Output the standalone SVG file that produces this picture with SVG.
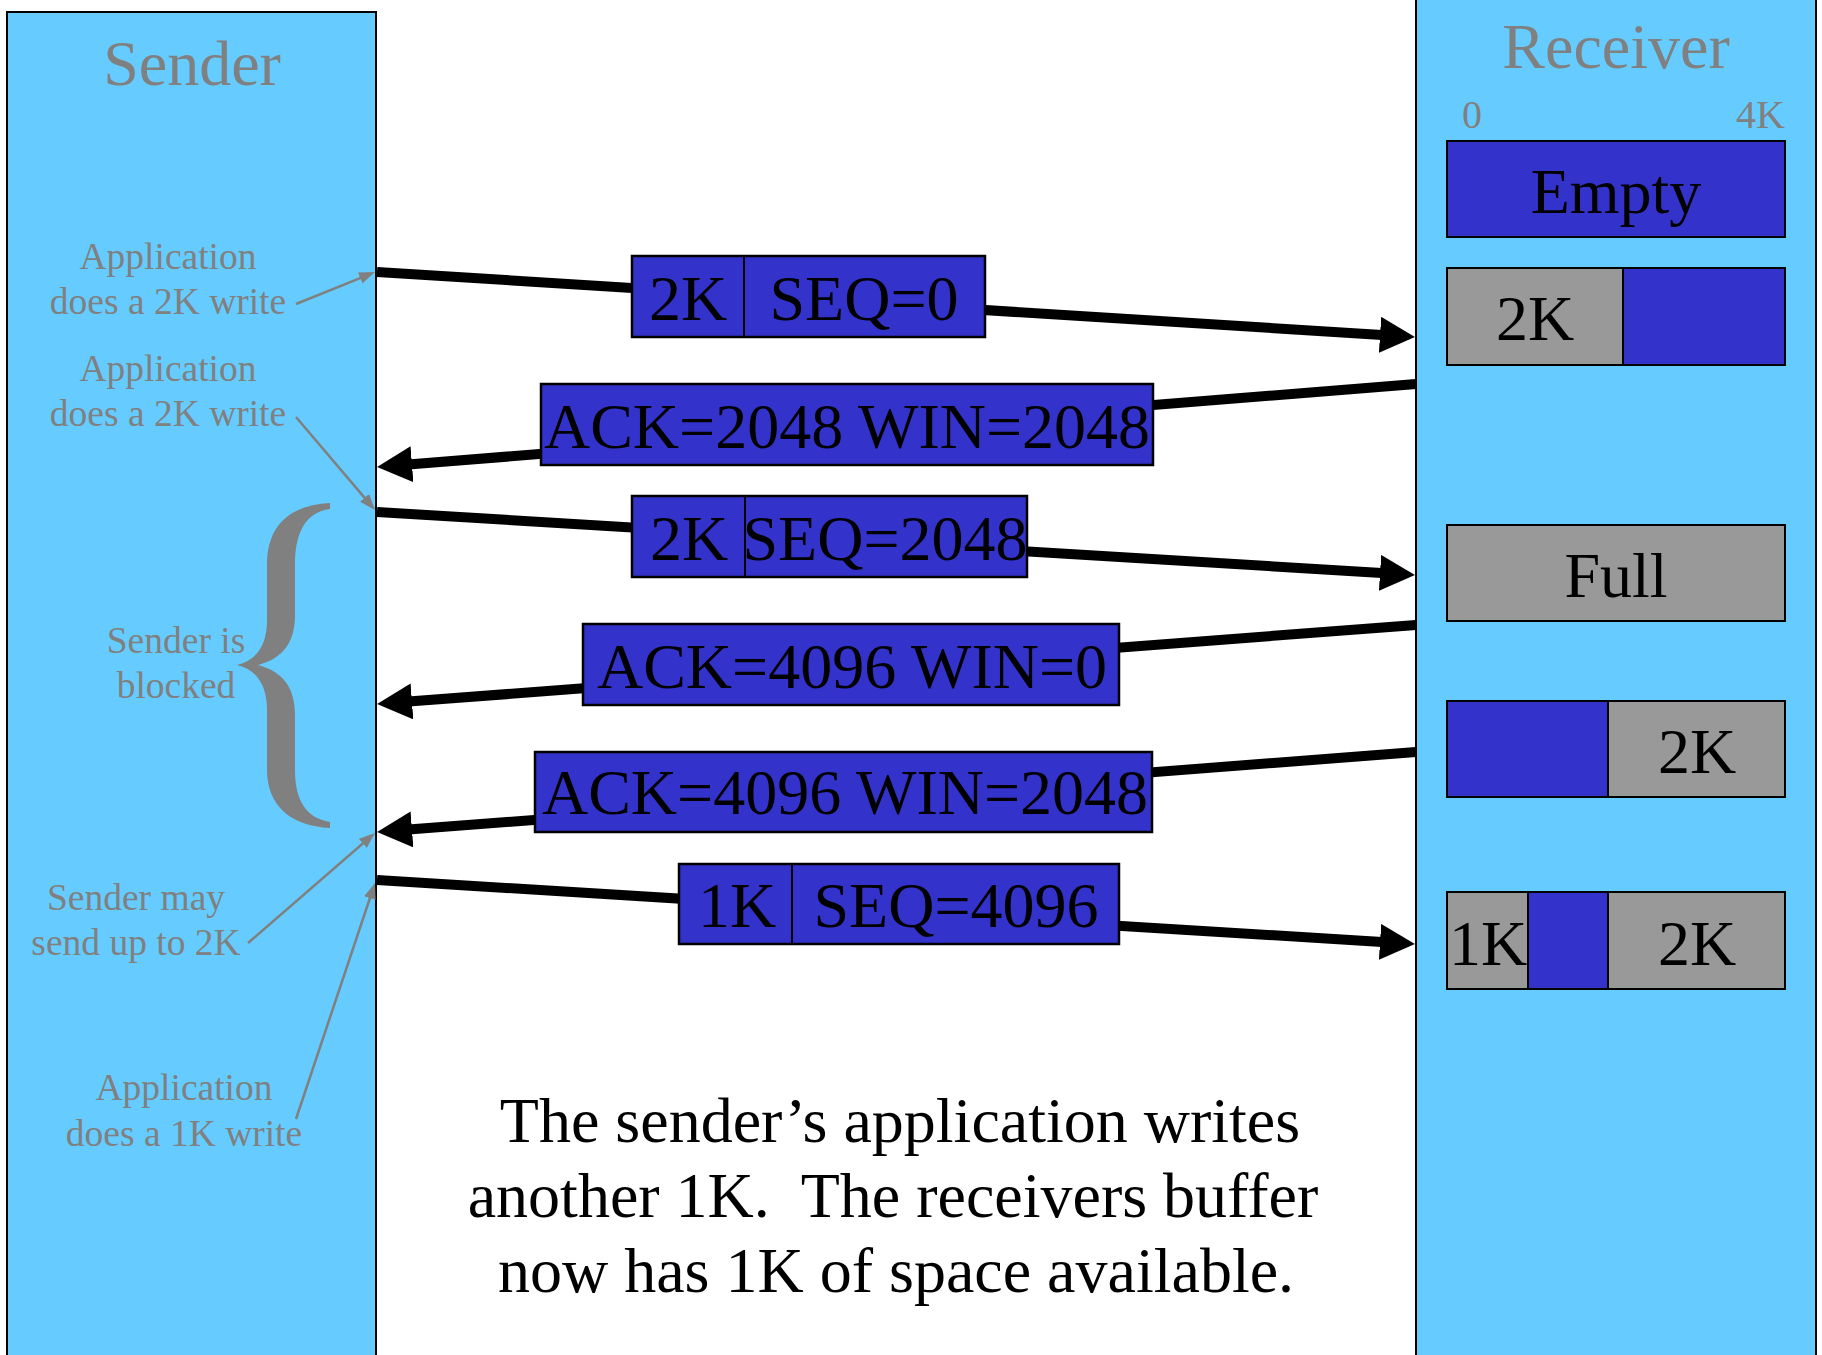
<svg xmlns="http://www.w3.org/2000/svg" width="1822" height="1355" viewBox="0 0 1822 1355">
<style>
.pane{fill:#66CCFF;stroke:#000;stroke-width:2}
.msg{fill:#3333CC;stroke:#000;stroke-width:2.5}
.buf{stroke:#000;stroke-width:2}
.blue{fill:#3333CC}
.gray{fill:#999999}
.t{font-family:"Liberation Serif","Times New Roman",serif;fill:#000;text-anchor:middle}
.g{font-family:"Liberation Serif","Times New Roman",serif;fill:#808080;text-anchor:middle}
.n{font-size:37.5px}
.conn{stroke:#000;stroke-width:10;fill:none}
.note{stroke:#808080;stroke-width:2.5;fill:none}
</style>
<defs>
<marker id="ah" markerUnits="userSpaceOnUse" orient="auto" viewBox="0 0 35 36" refX="10" refY="18" markerWidth="35" markerHeight="36">
<path d="M0,0 L35,18 L0,36 Z" fill="#000"/>
</marker>
<marker id="gh" markerUnits="userSpaceOnUse" orient="auto" viewBox="0 0 16 12" refX="6" refY="6" markerWidth="16" markerHeight="12">
<path d="M0,0 L16,6 L0,12 Z" fill="#808080"/>
</marker>
</defs>

<g id="sender">
<rect class="pane" x="7" y="12" width="369" height="1360"/>
<text class="g" x="192" y="85" font-size="64">Sender</text>
</g>

<g id="receiver">
<rect class="pane" x="1416" y="-10" width="400" height="1380"/>
<text class="g" x="1616" y="68" font-size="64">Receiver</text>
<text class="g" x="1472" y="128" font-size="40">0</text>
<text class="g" x="1785" y="128" font-size="40" style="text-anchor:end">4K</text>
</g>

<g id="buffer-empty">
<rect class="buf blue" x="1447" y="141" width="338" height="96"/>
<text class="t" x="1616" y="213" font-size="64">Empty</text>
</g>
<g id="buffer-2k">
<rect class="buf gray" x="1447" y="268" width="176" height="97"/>
<rect class="buf blue" x="1623" y="268" width="162" height="97"/>
<text class="t" x="1535" y="340" font-size="64">2K</text>
</g>
<g id="buffer-full">
<rect class="buf gray" x="1447" y="525" width="338" height="96"/>
<text class="t" x="1616" y="597" font-size="64">Full</text>
</g>
<g id="buffer-free2k">
<rect class="buf blue" x="1447" y="701" width="161" height="96"/>
<rect class="buf gray" x="1608" y="701" width="177" height="96"/>
<text class="t" x="1697" y="773" font-size="64">2K</text>
</g>
<g id="buffer-1k2k">
<rect class="buf gray" x="1447" y="892" width="81" height="97"/>
<rect class="buf blue" x="1528" y="892" width="80" height="97"/>
<rect class="buf gray" x="1608" y="892" width="177" height="97"/>
<text class="t" x="1488" y="965" font-size="64">1K</text>
<text class="t" x="1697" y="965" font-size="64">2K</text>
</g>

<g id="connectors">
<line class="conn" x1="377" y1="272" x2="1390" y2="335.4" marker-end="url(#ah)"/>
<line class="conn" x1="1416" y1="384" x2="402" y2="465" marker-end="url(#ah)"/>
<line class="conn" x1="377" y1="512" x2="1390" y2="573.5" marker-end="url(#ah)"/>
<line class="conn" x1="1416" y1="625" x2="402" y2="702.1" marker-end="url(#ah)"/>
<line class="conn" x1="1416" y1="752" x2="402" y2="830.1" marker-end="url(#ah)"/>
<line class="conn" x1="377" y1="880" x2="1390" y2="942.5" marker-end="url(#ah)"/>
<line class="note" x1="296" y1="304" x2="365.7" y2="275.8" marker-end="url(#gh)"/>
<line class="note" x1="296" y1="417" x2="368.5" y2="502.4" marker-end="url(#gh)"/>
<line class="note" x1="248" y1="943" x2="367.4" y2="839.5" marker-end="url(#gh)"/>
<line class="note" x1="296" y1="1119" x2="371.8" y2="892.5" marker-end="url(#gh)"/>
</g>

<g id="msg-seq0">
<rect class="msg" x="632" y="256" width="353" height="81"/>
<line x1="744" y1="256" x2="744" y2="337" stroke="#000" stroke-width="2"/>
<text class="t" x="688" y="320" font-size="64">2K</text>
<text class="t" x="864" y="320" font-size="64">SEQ=0</text>
</g>
<g id="msg-ack2048-win2048">
<rect class="msg" x="541" y="384" width="612" height="81"/>
<text class="t" x="847" y="448" font-size="64">ACK=2048 WIN=2048</text>
</g>
<g id="msg-seq2048">
<rect class="msg" x="632" y="496" width="395" height="81"/>
<line x1="745" y1="496" x2="745" y2="577" stroke="#000" stroke-width="2"/>
<text class="t" x="689" y="560" font-size="64">2K</text>
<text class="t" x="885" y="560" font-size="64">SEQ=2048</text>
</g>
<g id="msg-ack4096-win0">
<rect class="msg" x="583" y="624" width="536" height="81"/>
<text class="t" x="852" y="688" font-size="64">ACK=4096 WIN=0</text>
</g>
<g id="msg-ack4096-win2048">
<rect class="msg" x="535" y="752" width="617" height="80"/>
<text class="t" x="845" y="814" font-size="64">ACK=4096 WIN=2048</text>
</g>
<g id="msg-seq4096">
<rect class="msg" x="679" y="864" width="440" height="80"/>
<line x1="792" y1="864" x2="792" y2="944" stroke="#000" stroke-width="2"/>
<text class="t" x="737" y="927" font-size="64">1K</text>
<text class="t" x="956" y="927" font-size="64">SEQ=4096</text>
</g>

<g id="note-write1">
<text class="g n" x="168" y="269">Application</text>
<text class="g n" x="168" y="314">does a 2K write</text>
</g>
<g id="note-write2">
<text class="g n" x="168" y="381">Application</text>
<text class="g n" x="168" y="426">does a 2K write</text>
</g>
<g id="note-blocked">
<path fill="#808080" d="M330,503 C290,505 267,525 267,565 L267,620 C267,645 257,660 237,665 C257,670 267,685 267,710 L267,770 C267,805 290,826 330,828 L330,822 C306,818 295,800 295,770 L295,715 C295,690 285,672 258,665 C285,658 295,640 295,615 L295,565 C295,532 306,512 330,509 Z"/>
<text class="g n" x="176" y="653">Sender is</text>
<text class="g n" x="176" y="698">blocked</text>
</g>
<g id="note-maysend">
<text class="g n" x="136" y="910">Sender may</text>
<text class="g n" x="136" y="955">send up to 2K</text>
</g>
<g id="note-write3">
<text class="g n" x="184" y="1100">Application</text>
<text class="g n" x="184" y="1146">does a 1K write</text>
</g>

<g id="caption">
<text class="t" x="900" y="1142" font-size="64">The sender’s application writes</text>
<text class="t" x="893" y="1217" font-size="64" style="white-space:pre" xml:space="preserve">another 1K.  The receivers buffer</text>
<text class="t" x="896" y="1292" font-size="64">now has 1K of space available.</text>
</g>
</svg>
